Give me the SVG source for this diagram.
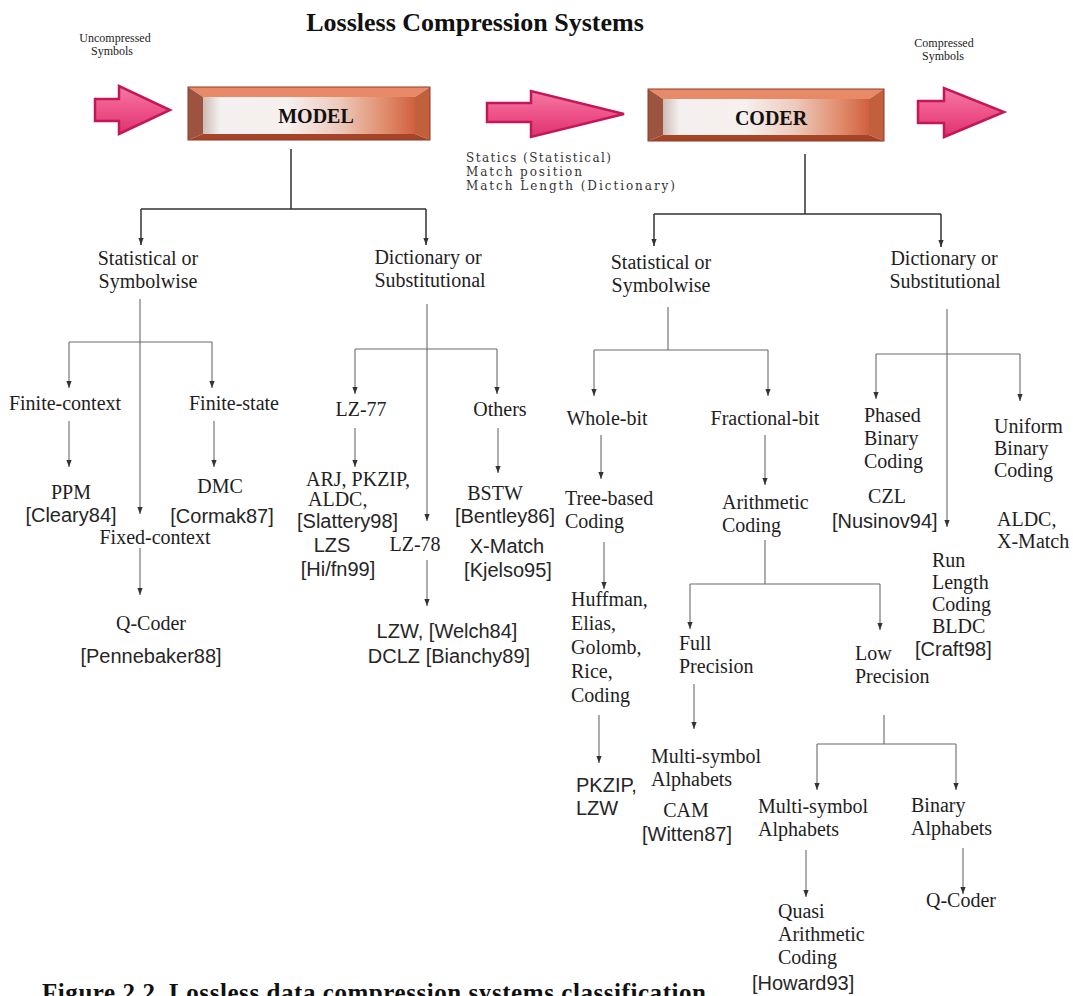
<svg xmlns="http://www.w3.org/2000/svg" width="1073" height="996" viewBox="0 0 1073 996">
  <style>
    .s { font-family: "Liberation Serif", "Times New Roman", serif; font-size: 20px; fill: #1e1e1e; }
    .g { font-family: "Liberation Sans", Arial, sans-serif; font-size: 20px; fill: #262626; }
    .sm { font-family: "Liberation Serif", "Times New Roman", serif; font-size: 12px; fill: #222; }
    .info { font-family: "DejaVu Serif", "Liberation Serif", serif; font-size: 12px; fill: #333; }
    .bold { font-family: "Liberation Serif", "Times New Roman", serif; font-weight: bold; fill: #111; }
    .c { text-anchor: middle; }
    .main { stroke: #333; stroke-width: 1.5; fill: none; }
    .sub { stroke: #6a6a6a; stroke-width: 1.1; fill: none; }
    .flow { fill: url(#pink); stroke: #c4175a; stroke-width: 2.5; stroke-linejoin: miter; }
    .bt { fill: #e88a68; }
    .bl { fill: #9c5440; }
    .br { fill: #c2603e; }
    .bb { fill: #a64428; }
    .face { fill: url(#faceGrad); }
    .frame { fill: none; stroke: #8e3a26; stroke-width: 1; }
  </style>
  <defs>
    <linearGradient id="pink" x1="0" y1="0" x2="0" y2="1">
      <stop offset="0" stop-color="#f37aa2"/>
      <stop offset="0.5" stop-color="#ee5389"/>
      <stop offset="1" stop-color="#dc326d"/>
    </linearGradient>
    <linearGradient id="faceGrad" x1="0" y1="0" x2="1" y2="0">
      <stop offset="0" stop-color="#cdbcb6"/>
      <stop offset="0.08" stop-color="#f4f0ef"/>
      <stop offset="0.4" stop-color="#f6f0ee"/>
      <stop offset="0.64" stop-color="#edcabc"/>
      <stop offset="0.86" stop-color="#e08c6c"/>
      <stop offset="1" stop-color="#d0603f"/>
    </linearGradient>
    <marker id="ah" viewBox="0 0 8 8" refX="8" refY="4" markerWidth="7" markerHeight="7" markerUnits="userSpaceOnUse" orient="auto">
      <path d="M0,1 L8,4 L0,7 Z" fill="#333"/>
    </marker>
  </defs>

  <rect width="1073" height="996" fill="#ffffff"/>

  <!-- title -->
  <text class="bold c" x="475" y="31" font-size="26">Lossless Compression Systems</text>

  <!-- input / output labels -->
  <g id="in-label">
    <text class="sm c" x="115" y="42">Uncompressed</text>
    <text class="sm c" x="112" y="55">Symbols</text>
  </g>
  <g id="out-label">
    <text class="sm c" x="944" y="47">Compressed</text>
    <text class="sm c" x="943" y="60">Symbols</text>
  </g>

  <!-- flow arrows -->
  <g id="flow-in"><path class="flow" d="M95,99 L119,99 L119,86 L170,110 L119,134 L119,121 L95,121 Z"/></g>
  <g id="flow-mid"><path class="flow" d="M487,103 L531,103 L531,91 L624,114 L531,137 L531,122 L487,122 Z"/></g>
  <g id="flow-out"><path class="flow" d="M918,101 L944,101 L944,88 L1004,112 L944,137 L944,123 L918,123 Z"/></g>

  <!-- MODEL block -->
  <g id="model">
    <polygon class="bt" points="188,87 430,87 415,97 203,97"/>
    <polygon class="bl" points="188,87 203,97 203,134 188,140"/>
    <polygon class="br" points="430,87 430,140 415,134 415,97"/>
    <polygon class="bb" points="188,140 203,134 415,134 430,140"/>
    <rect class="face" x="203" y="97" width="212" height="37"/>
    <rect class="frame" x="188" y="87" width="242" height="53"/>
    <text class="bold c" x="316" y="123" font-size="20">MODEL</text>
  </g>

  <!-- CODER block -->
  <g id="coder">
    <polygon class="bt" points="648,89 884,89 869,99 663,99"/>
    <polygon class="bl" points="648,89 663,99 663,135 648,141"/>
    <polygon class="br" points="884,89 884,141 869,135 869,99"/>
    <polygon class="bb" points="648,141 663,135 869,135 884,141"/>
    <rect class="face" x="663" y="99" width="206" height="36"/>
    <rect class="frame" x="648" y="89" width="236" height="52"/>
    <text class="bold c" x="771" y="125" font-size="20">CODER</text>
  </g>

  <!-- data passed from model to coder -->
  <g id="model-output">
    <text class="info" x="466" y="162" textLength="145" lengthAdjust="spacing">Statics (Statistical)</text>
    <text class="info" x="466" y="176" textLength="116" lengthAdjust="spacing">Match position</text>
    <text class="info" x="466" y="190" textLength="209" lengthAdjust="spacing">Match Length (Dictionary)</text>
  </g>

  <!-- connectors -->
  <g id="connectors">
    <!-- model split -->
    <path class="main" d="M291,149 V209 M141,209 H426"/>
    <path class="main" d="M141,209 V245" marker-end="url(#ah)"/>
    <path class="main" d="M426,209 V245" marker-end="url(#ah)"/>
    <!-- coder split -->
    <path class="main" d="M805,154 V214 M654,214 H941"/>
    <path class="main" d="M654,214 V246" marker-end="url(#ah)"/>
    <path class="main" d="M941,214 V247" marker-end="url(#ah)"/>

    <!-- model: statistical branch -->
    <path class="sub" d="M69,342 H212"/>
    <path class="sub" d="M140,299 V514" marker-end="url(#ah)"/>
    <path class="sub" d="M69,342 V388" marker-end="url(#ah)"/>
    <path class="sub" d="M212,342 V388" marker-end="url(#ah)"/>
    <path class="sub" d="M69,421 V467" marker-end="url(#ah)"/>
    <path class="sub" d="M214,421 V467" marker-end="url(#ah)"/>
    <path class="sub" d="M140,548 V595" marker-end="url(#ah)"/>

    <!-- model: dictionary branch -->
    <path class="sub" d="M355,349 H497"/>
    <path class="sub" d="M427,304 V521" marker-end="url(#ah)"/>
    <path class="sub" d="M355,349 V394" marker-end="url(#ah)"/>
    <path class="sub" d="M497,349 V394" marker-end="url(#ah)"/>
    <path class="sub" d="M355,428 V467" marker-end="url(#ah)"/>
    <path class="sub" d="M498,428 V473" marker-end="url(#ah)"/>
    <path class="sub" d="M427,560 V606" marker-end="url(#ah)"/>

    <!-- coder: statistical branch -->
    <path class="sub" d="M668,307 V350 M594,350 H768"/>
    <path class="sub" d="M594,350 V396" marker-end="url(#ah)"/>
    <path class="sub" d="M768,350 V396" marker-end="url(#ah)"/>
    <path class="sub" d="M601,435 V479" marker-end="url(#ah)"/>
    <path class="sub" d="M604,542 V589" marker-end="url(#ah)"/>
    <path class="sub" d="M599,715 V763" marker-end="url(#ah)"/>
    <path class="sub" d="M765,435 V485" marker-end="url(#ah)"/>
    <path class="sub" d="M765,540 V584 M690,584 H880"/>
    <path class="sub" d="M690,584 V629" marker-end="url(#ah)"/>
    <path class="sub" d="M880,584 V630" marker-end="url(#ah)"/>
    <path class="sub" d="M694,684 V729" marker-end="url(#ah)"/>
    <path class="sub" d="M884,715 V744 M817,744 H956"/>
    <path class="sub" d="M817,744 V790" marker-end="url(#ah)"/>
    <path class="sub" d="M956,744 V790" marker-end="url(#ah)"/>
    <path class="sub" d="M806,850 V897" marker-end="url(#ah)"/>
    <path class="sub" d="M963,848 V894" marker-end="url(#ah)"/>

    <!-- coder: dictionary branch -->
    <path class="sub" d="M876,354 H1020"/>
    <path class="sub" d="M947,309 V527" marker-end="url(#ah)"/>
    <path class="sub" d="M876,354 V399" marker-end="url(#ah)"/>
    <path class="sub" d="M1020,354 V401" marker-end="url(#ah)"/>
  </g>

  <!-- model side -->
  <g id="model-statistical">
    <text class="s c" x="148" y="265">Statistical or</text>
    <text class="s c" x="148" y="288">Symbolwise</text>
  </g>
  <g id="finite-context"><text class="s c" x="65" y="410">Finite-context</text></g>
  <g id="finite-state"><text class="s c" x="234" y="410">Finite-state</text></g>
  <g id="ppm">
    <text class="s c" x="71" y="499">PPM</text>
    <text class="g c" x="71" y="522">[Cleary84]</text>
  </g>
  <g id="dmc">
    <text class="s c" x="220" y="493">DMC</text>
    <text class="g c" x="222" y="523">[Cormak87]</text>
  </g>
  <g id="fixed-context"><text class="s c" x="155" y="544">Fixed-context</text></g>
  <g id="q-coder-model">
    <text class="s c" x="151" y="630">Q-Coder</text>
    <text class="g c" x="151" y="663">[Pennebaker88]</text>
  </g>

  <g id="model-dictionary">
    <text class="s c" x="428" y="264">Dictionary or</text>
    <text class="s c" x="430" y="287">Substitutional</text>
  </g>
  <g id="lz77"><text class="s c" x="361" y="416">LZ-77</text></g>
  <g id="others"><text class="s c" x="500" y="416">Others</text></g>
  <g id="lz77-items">
    <text class="s" x="306" y="486">ARJ, PKZIP,</text>
    <text class="s" x="308" y="506">ALDC,</text>
    <text class="g" x="297" y="528">[Slattery98]</text>
    <text class="g c" x="332" y="552">LZS</text>
    <text class="g c" x="338" y="576">[Hi/fn99]</text>
  </g>
  <g id="lz78"><text class="s c" x="415" y="551">LZ-78</text></g>
  <g id="lz78-items">
    <text class="g c" x="447" y="638">LZW, [Welch84]</text>
    <text class="g c" x="449" y="663">DCLZ [Bianchy89]</text>
  </g>
  <g id="others-items">
    <text class="s c" x="495" y="500">BSTW</text>
    <text class="g c" x="505" y="523">[Bentley86]</text>
    <text class="g c" x="507" y="553">X-Match</text>
    <text class="g c" x="508" y="577">[Kjelso95]</text>
  </g>

  <!-- coder side -->
  <g id="coder-statistical">
    <text class="s c" x="661" y="269">Statistical or</text>
    <text class="s c" x="661" y="292">Symbolwise</text>
  </g>
  <g id="whole-bit"><text class="s c" x="607" y="425">Whole-bit</text></g>
  <g id="fractional-bit"><text class="s c" x="765" y="425">Fractional-bit</text></g>
  <g id="tree-based">
    <text class="s" x="565" y="505">Tree-based</text>
    <text class="s" x="565" y="528">Coding</text>
  </g>
  <g id="huffman">
    <text class="s" x="571" y="606">Huffman,</text>
    <text class="s" x="571" y="630">Elias,</text>
    <text class="s" x="571" y="654">Golomb,</text>
    <text class="s" x="571" y="678">Rice,</text>
    <text class="s" x="571" y="702">Coding</text>
  </g>
  <g id="pkzip">
    <text class="g" x="576" y="792">PKZIP,</text>
    <text class="g" x="576" y="815">LZW</text>
  </g>
  <g id="arithmetic">
    <text class="s" x="722" y="509">Arithmetic</text>
    <text class="s" x="722" y="532">Coding</text>
  </g>
  <g id="full-precision">
    <text class="s" x="679" y="650">Full</text>
    <text class="s" x="679" y="673">Precision</text>
  </g>
  <g id="low-precision">
    <text class="s" x="855" y="660">Low</text>
    <text class="s" x="855" y="683">Precision</text>
  </g>
  <g id="full-multi">
    <text class="s" x="651" y="763">Multi-symbol</text>
    <text class="s" x="651" y="786">Alphabets</text>
    <text class="s c" x="686" y="817">CAM</text>
    <text class="g c" x="687" y="841">[Witten87]</text>
  </g>
  <g id="low-multi">
    <text class="s" x="758" y="813">Multi-symbol</text>
    <text class="s" x="758" y="836">Alphabets</text>
  </g>
  <g id="low-binary">
    <text class="s" x="911" y="812">Binary</text>
    <text class="s" x="911" y="835">Alphabets</text>
  </g>
  <g id="quasi">
    <text class="s" x="778" y="918">Quasi</text>
    <text class="s" x="778" y="941">Arithmetic</text>
    <text class="s" x="778" y="964">Coding</text>
    <text class="g" x="752" y="990">[Howard93]</text>
  </g>
  <g id="q-coder-coder"><text class="s c" x="961" y="907">Q-Coder</text></g>

  <g id="coder-dictionary">
    <text class="s c" x="944" y="265">Dictionary or</text>
    <text class="s c" x="945" y="288">Substitutional</text>
  </g>
  <g id="phased">
    <text class="s" x="864" y="422">Phased</text>
    <text class="s" x="864" y="445">Binary</text>
    <text class="s" x="864" y="468">Coding</text>
  </g>
  <g id="czl">
    <text class="s c" x="887" y="503">CZL</text>
    <text class="g" x="832" y="528">[Nusinov94]</text>
  </g>
  <g id="uniform">
    <text class="s" x="994" y="433">Uniform</text>
    <text class="s" x="994" y="455">Binary</text>
    <text class="s" x="994" y="477">Coding</text>
  </g>
  <g id="uniform-items">
    <text class="s" x="997" y="526">ALDC,</text>
    <text class="s" x="997" y="548">X-Match</text>
  </g>
  <g id="run-length">
    <text class="s" x="932" y="567">Run</text>
    <text class="s" x="932" y="589">Length</text>
    <text class="s" x="932" y="611">Coding</text>
    <text class="s" x="932" y="633">BLDC</text>
    <text class="g" x="915" y="656">[Craft98]</text>
  </g>

  <!-- caption, clipped by the bottom edge -->
  <text class="bold" x="42" y="1001" font-size="25" textLength="664" lengthAdjust="spacing">Figure 2.2. Lossless data compression systems classification</text>
</svg>
